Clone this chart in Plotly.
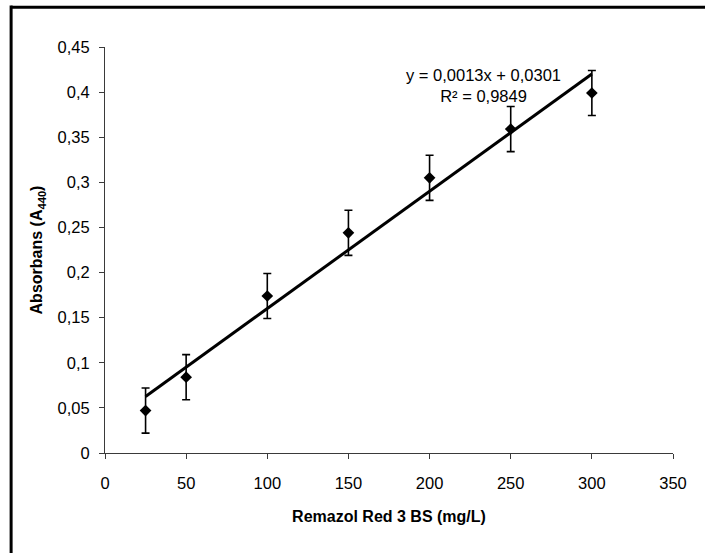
import numpy as np
import plotly.graph_objects as go

# Calibration data: Remazol Red 3 BS concentration vs absorbance at 440 nm
concentration = [25, 50, 100, 150, 200, 250, 300]
absorbance = [0.047, 0.084, 0.174, 0.244, 0.305, 0.359, 0.399]
abs_error = [0.025, 0.025, 0.025, 0.025, 0.025, 0.025, 0.025]

# Linear trendline coefficients
slope = 0.0013
intercept = 0.0301
r_squared = 0.9849

x_ticks = [0, 50, 100, 150, 200, 250, 300, 350]
y_ticks = [0, 0.05, 0.1, 0.15, 0.2, 0.25, 0.3, 0.35, 0.4, 0.45]
y_tick_text = ["0", "0,05", "0,1", "0,15", "0,2", "0,25", "0,3", "0,35", "0,4", "0,45"]

FONT = "Liberation Sans, Arial, sans-serif"
AXIS_COLOR = "#3a3a3a"

trend_x = np.array([concentration[0], concentration[-1]], dtype=float)
trend_y = slope * trend_x + intercept

fig = go.Figure()

fig.add_trace(go.Scatter(
    x=trend_x, y=trend_y, mode="lines",
    line=dict(color="black", width=3),
    hoverinfo="skip", showlegend=False,
))

fig.add_trace(go.Scatter(
    x=concentration, y=absorbance, mode="markers",
    marker=dict(symbol="diamond", size=9, color="black"),
    error_y=dict(type="data", array=abs_error, visible=True,
                 color="black", thickness=1.6, width=4),
    showlegend=False,
))

eq_text = ("y = {:.4f}x + {:.4f}".format(slope, intercept).replace(".", ",")
           + "<br>R² = {:.4f}".format(r_squared).replace(".", ","))
fig.add_annotation(
    x=233, y=0.407, xref="x", yref="y",
    text=eq_text, showarrow=False, align="center",
    font=dict(family=FONT, size=16.5, color="black"),
)

# Outer frame lines (top and left edges of the chart box)
fig.add_shape(type="line", xref="paper", yref="paper",
              x0=-0.1653, x1=1.06, y0=1.098, y1=1.098,
              line=dict(color="black", width=3))
fig.add_shape(type="line", xref="paper", yref="paper",
              x0=-0.1653, x1=-0.1653, y0=1.102, y1=-0.26,
              line=dict(color="black", width=3))

fig.update_layout(
    width=705, height=553,
    margin=dict(l=105, r=32, t=47, b=100),
    paper_bgcolor="white", plot_bgcolor="white",
    font=dict(family=FONT, size=16, color="black"),
    separators=", ",
    xaxis=dict(
        range=[0, 350], tickvals=x_ticks, showgrid=False, zeroline=False,
        showline=True, linecolor=AXIS_COLOR, linewidth=1,
        ticks="outside", ticklen=5, tickcolor=AXIS_COLOR,
        ticklabelstandoff=10,
        tickfont=dict(family=FONT, size=16.5, color="black"),
        title=dict(text="<b>Remazol Red 3 BS (mg/L)</b>",
                   font=dict(family=FONT, size=16, color="black"), standoff=20),
    ),
    yaxis=dict(
        range=[0, 0.45], tickvals=y_ticks, ticktext=y_tick_text,
        showgrid=False, zeroline=False,
        showline=True, linecolor=AXIS_COLOR, linewidth=1,
        ticks="outside", ticklen=5, tickcolor=AXIS_COLOR,
        ticklabelstandoff=6,
        tickfont=dict(family=FONT, size=16.5, color="black"),
        title=dict(text="<b>Absorbans (A<sub>440</sub>)</b>",
                   font=dict(family=FONT, size=16, color="black"), standoff=10),
    ),
)

fig.write_html("out.html")
